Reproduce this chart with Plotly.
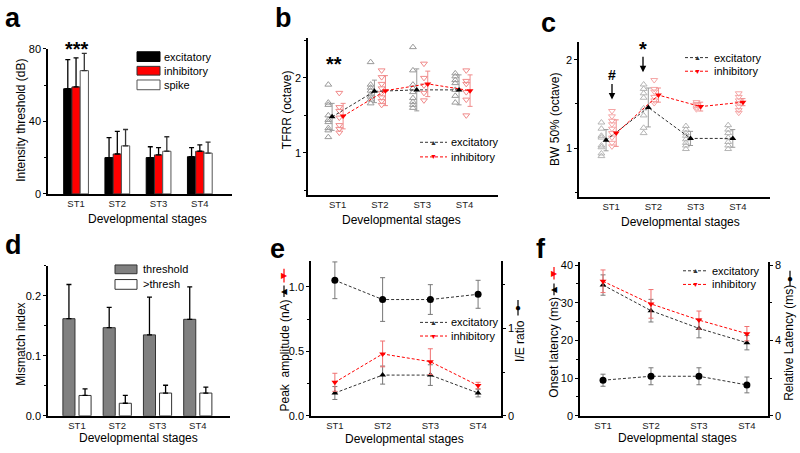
import plotly.graph_objects as go

FONT = "Arial, Liberation Sans, sans-serif"
W, H = 800, 453

stages = ["ST1", "ST2", "ST3", "ST4"]
pos = [0, 1, 2, 3]

# ---- panel a: intensity threshold (dB)
a_excit = [58, 20, 20, 20.5]
a_excit_err = [16, 11, 6, 5]
a_inhib = [59, 22, 21.5, 23.5]
a_inhib_err = [16, 12.5, 4, 3.5]
a_spike = [68, 26.5, 23.5, 22.5]
a_spike_err = [9.5, 9, 8, 6]

# ---- panel b: TFRR (octave)
b_excit_mean = [1.48, 1.82, 1.84, 1.84]
b_excit_sd = [0.18, 0.15, 0.28, 0.20]
b_inhib_mean = [1.49, 1.83, 1.92, 1.83]
b_inhib_sd = [0.17, 0.20, 0.17, 0.21]
b_excit_pts = [
    [1.91, 1.67, 1.64, 1.50, 1.44, 1.41, 1.33, 1.30, 1.21],
    [2.21, 1.91, 1.87, 1.83, 1.78, 1.75, 1.71, 1.66],
    [2.41, 2.10, 1.91, 1.86, 1.81, 1.73, 1.68, 1.64, 1.60],
    [2.06, 2.02, 1.97, 1.93, 1.84, 1.76, 1.67],
]
b_inhib_pts = [
    [1.80, 1.61, 1.56, 1.47, 1.37, 1.32, 1.27],
    [2.10, 2.01, 1.92, 1.86, 1.80, 1.74, 1.69, 1.64],
    [2.19, 2.00, 1.90, 1.80, 1.70],
    [2.10, 1.96, 1.92, 1.81, 1.71, 1.50],
]

# ---- panel c: BW 50% (octave)
c_excit_mean = [1.09, 1.46, 1.11, 1.11]
c_excit_sd = [0.12, 0.22, 0.08, 0.10]
c_inhib_mean = [1.17, 1.60, 1.47, 1.52]
c_inhib_sd = [0.15, 0.08, 0.05, 0.04]
c_excit_pts = [
    [1.29, 1.22, 1.14, 1.12, 1.03, 1.01, 0.94, 0.91],
    [1.72, 1.67, 1.62, 1.57, 1.45, 1.37, 1.23, 1.17],
    [1.25, 1.21, 1.17, 1.14, 1.10, 1.06, 1.03, 0.99],
    [1.26, 1.21, 1.17, 1.12, 1.07, 1.03, 0.99],
]
c_inhib_pts = [
    [1.42, 1.36, 1.31, 1.27, 1.22, 1.17, 1.12, 1.06, 1.02],
    [1.77, 1.67, 1.64, 1.58, 1.54, 1.51],
    [1.52, 1.50, 1.49, 1.46, 1.44],
    [1.62, 1.58, 1.54, 1.51, 1.47, 1.43, 1.40],
]

# ---- panel d: mismatch index
d_thr = [0.162, 0.147, 0.135, 0.161]
d_thr_err = [0.057, 0.034, 0.063, 0.054]
d_sup = [0.034, 0.021, 0.038, 0.038]
d_sup_err = [0.011, 0.013, 0.013, 0.010]

# ---- panel e: peak amplitude (nA) and I/E ratio
e_excit = [0.177, 0.316, 0.316, 0.177]
e_excit_err = [0.05, 0.07, 0.08, 0.03]
e_inhib = [0.26, 0.48, 0.42, 0.235]
e_inhib_err = [0.07, 0.10, 0.10, 0.025]
e_ratio = [1.55, 1.33, 1.33, 1.39]
e_ratio_err = [0.21, 0.25, 0.17, 0.16]

# ---- panel f: onset latency (ms) and relative latency (ms)
f_excit = [34.7, 27.9, 23.2, 19.4]
f_excit_err = [2.7, 3.0, 2.5, 1.9]
f_inhib = [35.7, 29.7, 25.4, 21.8]
f_inhib_err = [3.0, 3.8, 2.4, 1.9]
f_rel = [1.89, 2.10, 2.10, 1.64]
f_rel_err = [0.32, 0.45, 0.45, 0.42]


def PX(x):
    return x / W


def PY(y):
    return 1 - y / H


RED = "#ff0000"
DASH = "3px,2px"

fig = go.Figure()


def err_up(arr, color="black"):
    return dict(type="data", array=arr, arrayminus=[0] * len(arr), symmetric=False,
                color=color, thickness=1.3, width=2.5)


def err_sym(arr, color, width=2.5):
    return dict(type="data", array=arr, color=color, thickness=1, width=width)


# panel a bars
for vals, errs, fill, lc, off, ec in [
    (a_excit, a_excit_err, "black", "black", -0.3, "black"),
    (a_inhib, a_inhib_err, RED, "#333333", -0.1, "black"),
    (a_spike, a_spike_err, "white", "#555555", 0.1, "#333333"),
]:
    fig.add_trace(go.Bar(x=pos, y=vals, width=0.2, offset=off,
                         marker=dict(color=fill, line=dict(color=lc, width=1)),
                         error_y=err_up(errs, ec), xaxis="x", yaxis="y"))

# panel d bars
for vals, errs, fill, off in [
    (d_thr, d_thr_err, "#808080", -0.35),
    (d_sup, d_sup_err, "white", 0.05),
]:
    fig.add_trace(go.Bar(x=pos, y=vals, width=0.3, offset=off,
                         marker=dict(color=fill, line=dict(color="#333333", width=1)),
                         error_y=err_up(errs, "black"), xaxis="x4", yaxis="y4"))


def scatter_points(pts, off, symbol, color, xa, ya):
    xs, ys = [], []
    for i, arr in enumerate(pts):
        for v in arr:
            xs.append(pos[i] + off)
            ys.append(v)
    fig.add_trace(go.Scatter(x=xs, y=ys, mode="markers",
                             marker=dict(symbol=symbol, size=6, color=color,
                                         line=dict(color=color, width=1)),
                             xaxis=xa, yaxis=ya))


def mean_line(means, sds, off, symbol, mcolor, lcolor, ecolor, xa, ya, size=6):
    fig.add_trace(go.Scatter(x=[p + off for p in pos], y=means, mode="lines+markers",
                             line=dict(color=lcolor, width=1, dash=DASH),
                             marker=dict(symbol=symbol, size=size, color=mcolor),
                             error_y=err_sym(sds, ecolor),
                             xaxis=xa, yaxis=ya))


# panel b
scatter_points(b_excit_pts, -0.22, "triangle-up-open", "#9a9a9a", "x2", "y2")
scatter_points(b_inhib_pts, 0.04, "triangle-down-open", "#f08a8a", "x2", "y2")
mean_line(b_excit_mean, b_excit_sd, -0.13, "triangle-up", "black", "#333333", "#9a9a9a", "x2", "y2")
mean_line(b_inhib_mean, b_inhib_sd, 0.13, "triangle-down", RED, RED, "#f08a8a", "x2", "y2")

# panel c
scatter_points(c_excit_pts, -0.23, "triangle-up-open", "#b5b5b5", "x3", "y3")
scatter_points(c_inhib_pts, 0.02, "triangle-down-open", "#f5a5a5", "x3", "y3")
mean_line(c_excit_mean, c_excit_sd, -0.12, "triangle-up", "black", "#333333", "#9a9a9a", "x3", "y3")
mean_line(c_inhib_mean, c_inhib_sd, 0.12, "triangle-down", RED, RED, "#f08a8a", "x3", "y3")

# panel e
mean_line(e_ratio, e_ratio_err, 0, "circle", "black", "#333333", "#777777", "x5", "y7", size=7)
mean_line(e_excit, e_excit_err, 0, "triangle-up", "black", "#333333", "#777777", "x5", "y5")
mean_line(e_inhib, e_inhib_err, 0, "triangle-down", RED, RED, "#f07070", "x5", "y5")

# panel f
mean_line(f_rel, f_rel_err, 0, "circle", "black", "#333333", "#777777", "x6", "y8", size=7)
mean_line(f_excit, f_excit_err, 0, "triangle-up", "black", "#333333", "#777777", "x6", "y6")
mean_line(f_inhib, f_inhib_err, 0, "triangle-down", RED, RED, "#f07070", "x6", "y6")

# ---- axes
ax_common = dict(showline=True, linecolor="black", linewidth=1.5, showgrid=False,
                 zeroline=False, fixedrange=True)
y_common = dict(ax_common, ticks="outside", ticklen=3, tickwidth=1.2, tickcolor="black",
                tickfont=dict(size=11, color="black", family=FONT))
x_common = dict(ax_common, ticks="", tickvals=pos, ticktext=stages,
                tickfont=dict(size=9.5, color="#222222", family=FONT),
                ticklabelstandoff=0)


def minor(d):
    return dict(dtick=d, ticks="outside", ticklen=2, tickcolor="black", tickwidth=1)


panels = {
    1: dict(x=(48, 232), y=(44, 193), xr=(-0.68, 3.78), yr=(0, 80), dt=40, mn=20, fmt=None),
    2: dict(x=(308, 498), y=(33, 194), xr=(-0.70, 3.79), yr=(0.44, 2.53), dt=1, mn=0.5, fmt=None),
    3: dict(x=(579, 770), y=(37, 196), xr=(-0.76, 3.76), yr=(0.45, 2.2), dt=1, mn=0.5, fmt=None),
    4: dict(x=(48, 230), y=(267, 421), xr=(-0.72, 3.80), yr=(0, 0.25), dt=0.1, mn=0.05, fmt=".1f"),
    5: dict(x=(311, 501), y=(262, 421), xr=(-0.50, 3.48), yr=(0, 1.2), dt=0.5, mn=0.25, fmt=".1f"),
    6: dict(x=(580, 768), y=(263, 421), xr=(-0.48, 3.44), yr=(0, 40.8), dt=10, mn=5, fmt=None),
}

layout_axes = {}
for k, p in panels.items():
    xs = "xaxis" if k == 1 else f"xaxis{k}"
    ys = "yaxis" if k == 1 else f"yaxis{k}"
    yname = "y" if k == 1 else f"y{k}"
    xname = "x" if k == 1 else f"x{k}"
    layout_axes[xs] = dict(x_common, domain=[PX(p["x"][0]), PX(p["x"][1])],
                           range=list(p["xr"]), anchor=yname)
    yd = dict(y_common, domain=[PY(p["y"][1]), PY(p["y"][0])], range=list(p["yr"]),
              anchor=xname, tick0=0, dtick=p["dt"], minor=minor(p["mn"]))
    if p["fmt"]:
        yd["tickformat"] = p["fmt"]
    layout_axes[ys] = yd

layout_axes["yaxis7"] = dict(y_common, overlaying="y5", anchor="x5", side="right",
                             range=[0, 1.77], tick0=0, dtick=1, minor=minor(0.5))
layout_axes["yaxis8"] = dict(y_common, overlaying="y6", anchor="x6", side="right",
                             range=[0, 8.16], tick0=0, dtick=4, minor=minor(2))

# ---- annotations & shapes
anns = []
shapes = []


def ann(text, x, y, size=12, color="black", angle=0, xanchor="center", yanchor="middle"):
    anns.append(dict(text=text, x=PX(x), y=PY(y), xref="paper", yref="paper",
                     showarrow=False, textangle=angle, xanchor=xanchor, yanchor=yanchor,
                     font=dict(size=size, color=color, family=FONT)))


# panel letters
for lab, x, y in [("a", 13, 12), ("b", 283, 12), ("c", 548, 17),
                  ("d", 13, 246), ("e", 277, 250), ("f", 541, 250)]:
    ann(f"<b>{lab}</b>", x, y, size=27)

# x titles
for x, y in [(147, 219), (402, 220), (680, 222), (138, 444), (404, 445), (677, 444)]:
    ann("Developmental stages", x, y, size=12)

# y titles
ann("Intensity threshold (dB)", 21, 118, angle=-90)
ann("TFRR (octave)", 287, 107, angle=-90)
ann("BW 50% (octave)", 555, 117, angle=-90)
ann("Mismatch index", 21, 348, angle=-90)
ann("Peak  amplitude (nA)", 285, 359, angle=-90)
ann("I/E ratio", 520, 344, angle=-90)
ann("Onset latency (ms)", 554, 351, angle=-90)
ann("Relative Latency (ms)", 789, 346, angle=-90)

# significance marks
ann("<b>***</b>", 77, 44, size=20)
ann("<b>**</b>", 334, 60, size=20)
ann("<b>*</b>", 643, 44, size=20)
ann("<b>#</b>", 612, 71, size=14)
for x, y0, y1 in [(612, 79, 96), (643, 51, 68)]:
    anns.append(dict(text="", x=PX(x), y=PY(y1), xref="paper", yref="paper",
                     ax=0, ay=-(y1 - y0), axref="pixel", ayref="pixel",
                     showarrow=True, arrowhead=2, arrowsize=1, arrowwidth=1.3,
                     arrowcolor="black", standoff=0, startstandoff=0))


# box legends (bar panels)
def box_leg(x0, x1, y0, y1, fill, line, label, tx):
    shapes.append(dict(type="rect", xref="paper", yref="paper",
                       x0=PX(x0), x1=PX(x1), y0=PY(y1), y1=PY(y0),
                       fillcolor=fill, line=dict(color=line, width=1)))
    ann(label, tx, (y0 + y1) / 2, size=11, xanchor="left")


box_leg(137, 160, 47, 57, "black", "black", "excitatory", 162)
box_leg(137, 160, 62, 71, RED, "#333333", "inhibitory", 162)
box_leg(137, 160, 76, 86, "white", "#555555", "spike", 162)
box_leg(115, 137, 266, 275, "#808080", "#333333", "threshold", 141)
box_leg(115, 137, 281, 291, "white", "#333333", ">thresh", 141)


# line legends
def line_leg(x0, x1, y, color, glyph, label):
    shapes.append(dict(type="line", xref="paper", yref="paper",
                       x0=PX(x0), x1=PX(x1), y0=PY(y), y1=PY(y),
                       line=dict(color=color, width=1, dash=DASH)))
    ann(glyph, (x0 + x1) / 2, y, size=7, color=color)
    ann(label, x1 + 2, y, size=11, xanchor="left")


for (x0, x1, y1, y2) in [(420, 447, 140, 155), (685, 710, 53, 67),
                         (420, 447, 325, 339), (683, 708, 272, 286)]:
    line_leg(x0, x1, y1, "#333333", "▲", "excitatory")
    line_leg(x0, x1, y2, RED, "▼", "inhibitory")


# axis-title symbol keys
def vkey(x, y0, y1, color, glyph, size=8):
    shapes.append(dict(type="line", xref="paper", yref="paper",
                       x0=PX(x), x1=PX(x), y0=PY(y0), y1=PY(y1),
                       line=dict(color=color, width=1.2)))
    ann(glyph, x, (y0 + y1) / 2, size=size, color=color)


vkey(284, 270, 284, RED, "▶")
vkey(284, 287, 299, "black", "◀")
vkey(554, 268, 281, RED, "▶")
vkey(554, 285, 297, "black", "◀")
vkey(518, 302, 318, "black", "●", size=10)
vkey(790, 272, 288, "black", "●", size=10)

fig.update_layout(
    width=W, height=H, margin=dict(l=0, r=0, t=0, b=0),
    paper_bgcolor="white", plot_bgcolor="white",
    showlegend=False, barmode="overlay",
    font=dict(family=FONT, color="black"),
    annotations=anns, shapes=shapes,
    **layout_axes,
)

fig.write_html("out.html", config={"displayModeBar": False},
               post_script="document.body.style.margin='0';document.body.style.padding='0';")
